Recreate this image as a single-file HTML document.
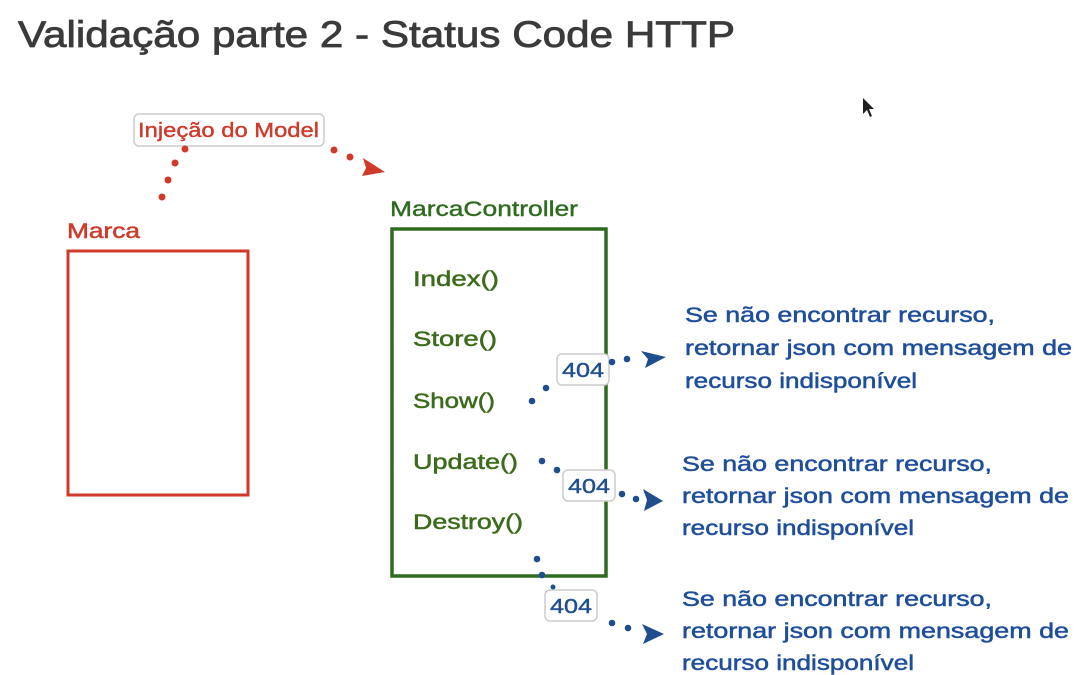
<!DOCTYPE html>
<html><head><meta charset="utf-8"><style>
html,body{margin:0;padding:0;background:#fff;width:1075px;height:675px;overflow:hidden}
svg text{font-family:"Liberation Sans","DejaVu Sans",sans-serif}
</style></head><body>
<svg width="1075" height="675" viewBox="0 0 1075 675" xmlns="http://www.w3.org/2000/svg">
<rect width="1075" height="675" fill="#fff"/>
<text x="18" y="47" font-size="37" fill="#3a3a3a" stroke="#3a3a3a" stroke-width="0.8" textLength="717" lengthAdjust="spacingAndGlyphs">Validação parte 2 - Status Code HTTP</text>
<path d="M863 98 L863 114 L867 110 L870 117 L872 116 L869 109 L874 109 Z" fill="#222"/>
<rect x="134" y="114" width="190" height="32" rx="5" fill="#fff" stroke="#ccc" stroke-width="1.5"/>
<text x="138" y="137" font-size="20" fill="#d03a2b" stroke="#d03a2b" stroke-width="0.4" textLength="181" lengthAdjust="spacingAndGlyphs">Injeção do Model</text>
<g fill="#d03a2b">
<circle cx="185" cy="149" r="3.5"/><circle cx="175" cy="163" r="3.5"/><circle cx="168" cy="180" r="3.5"/><circle cx="162" cy="197" r="3.5"/>
<circle cx="334" cy="150" r="3.5"/><circle cx="350" cy="157" r="3.5"/>
<path d="M363 158 L385 172 L362 176 L366 168 Z"/>
</g>
<text x="67" y="238" font-size="21" fill="#d03a2b" stroke="#d03a2b" stroke-width="0.5" textLength="73" lengthAdjust="spacingAndGlyphs">Marca</text>
<rect x="68" y="251" width="180" height="244" fill="none" stroke="#d03a2b" stroke-width="3"/>
<text x="390" y="216" font-size="21" fill="#2e6b1f" stroke="#2e6b1f" stroke-width="0.4" textLength="188" lengthAdjust="spacingAndGlyphs">MarcaController</text>
<rect x="392" y="229" width="214" height="347" fill="none" stroke="#2e6b1f" stroke-width="3.5"/>
<g font-size="21" fill="#3d6b1c" stroke="#3d6b1c" stroke-width="0.5">
<text x="413" y="286" textLength="86" lengthAdjust="spacingAndGlyphs">Index()</text>
<text x="413" y="346" textLength="84" lengthAdjust="spacingAndGlyphs">Store()</text>
<text x="413" y="408" textLength="82" lengthAdjust="spacingAndGlyphs">Show()</text>
<text x="413" y="469" textLength="105" lengthAdjust="spacingAndGlyphs">Update()</text>
<text x="413" y="529" textLength="110" lengthAdjust="spacingAndGlyphs">Destroy()</text>
</g>
<g fill="#fff" stroke="#ccc" stroke-width="1.5">
<rect x="557" y="354" width="52" height="31" rx="5"/>
<rect x="563" y="470" width="52" height="31" rx="5"/>
<rect x="545" y="590" width="52" height="31" rx="5"/>
</g>
<g font-size="20" fill="#1f4e8f" stroke="#1f4e8f" stroke-width="0.4">
<text x="562" y="377" textLength="42" lengthAdjust="spacingAndGlyphs">404</text>
<text x="568" y="493" textLength="42" lengthAdjust="spacingAndGlyphs">404</text>
<text x="550" y="613" textLength="42" lengthAdjust="spacingAndGlyphs">404</text>
</g>
<g fill="#1f4e8f">
<circle cx="532" cy="401" r="3.3"/><circle cx="546" cy="388" r="3.3"/>
<circle cx="612" cy="362" r="3.3"/><circle cx="627" cy="359" r="3.3"/>
<path d="M641 351 L666 357 L645 368 L648 359 Z"/>
<circle cx="542" cy="461" r="3.3"/><circle cx="557" cy="470" r="3.3"/>
<circle cx="622" cy="494" r="3.3"/><circle cx="636" cy="499" r="3.3"/>
<path d="M643 489 L663 501 L644 511 L647 500 Z"/>
<circle cx="537" cy="559" r="3.3"/><circle cx="542" cy="575" r="3.3"/><circle cx="553" cy="587" r="2.5"/>
<circle cx="612" cy="623" r="3.3"/><circle cx="628" cy="628" r="3.3"/>
<path d="M642 624 L664 634 L643 644 L647 634 Z"/>
</g>
<g font-size="21" fill="#1f4e9a" stroke="#1f4e9a" stroke-width="0.5">
<text x="685" y="322" textLength="310" lengthAdjust="spacingAndGlyphs">Se não encontrar recurso,</text>
<text x="685" y="355" textLength="387" lengthAdjust="spacingAndGlyphs">retornar json com mensagem de</text>
<text x="685" y="388" textLength="232" lengthAdjust="spacingAndGlyphs">recurso indisponível</text>
<text x="682" y="471" textLength="310" lengthAdjust="spacingAndGlyphs">Se não encontrar recurso,</text>
<text x="682" y="503" textLength="387" lengthAdjust="spacingAndGlyphs">retornar json com mensagem de</text>
<text x="682" y="535" textLength="232" lengthAdjust="spacingAndGlyphs">recurso indisponível</text>
<text x="682" y="606" textLength="310" lengthAdjust="spacingAndGlyphs">Se não encontrar recurso,</text>
<text x="682" y="638" textLength="387" lengthAdjust="spacingAndGlyphs">retornar json com mensagem de</text>
<text x="682" y="670" textLength="232" lengthAdjust="spacingAndGlyphs">recurso indisponível</text>
</g>
</svg>
</body></html>
